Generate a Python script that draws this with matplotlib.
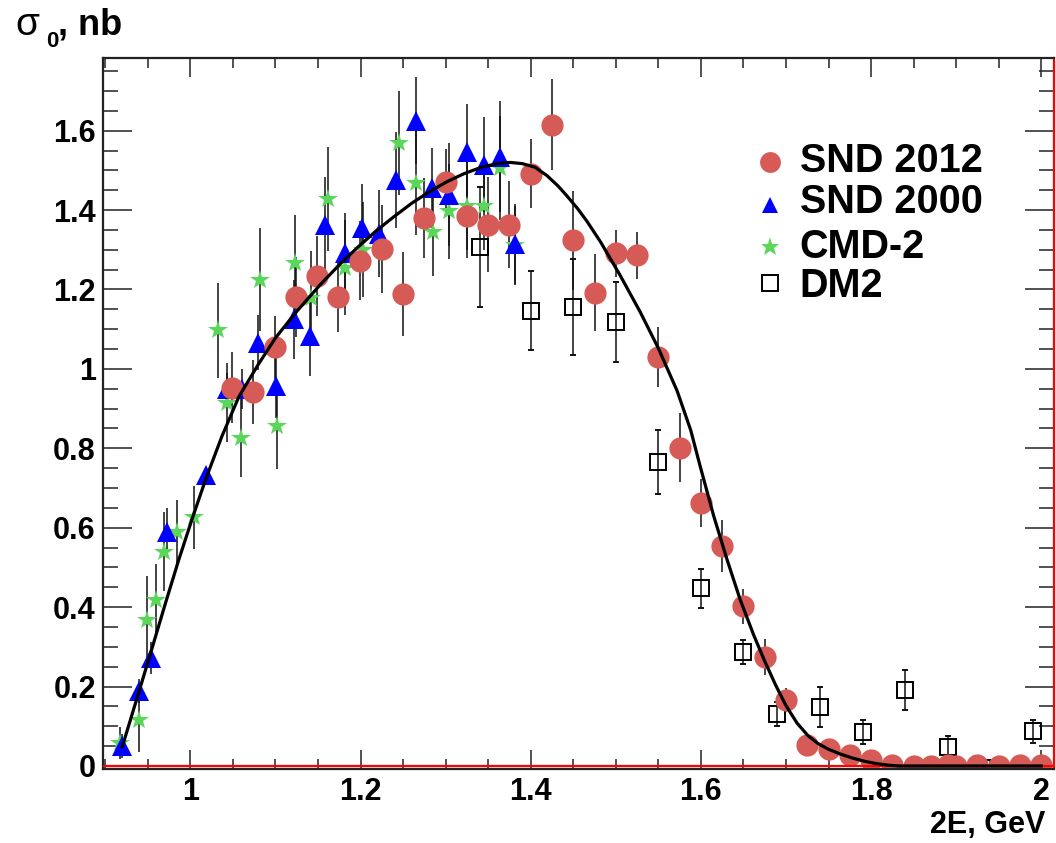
import matplotlib
matplotlib.use("Agg")
import matplotlib.pyplot as plt
from matplotlib.ticker import MultipleLocator, FuncFormatter

# SND 2012: energy (GeV), cross section (nb), error
snd12_x = [1.049, 1.074, 1.100, 1.124, 1.149, 1.174, 1.199, 1.225, 1.250, 1.275,
           1.300, 1.325, 1.350, 1.375, 1.400, 1.425, 1.450, 1.475, 1.500, 1.525,
           1.550, 1.575, 1.600, 1.625, 1.650, 1.675, 1.700, 1.725, 1.750, 1.775,
           1.800, 1.825, 1.850, 1.870, 1.890, 1.900, 1.925, 1.950, 1.975, 2.000]
snd12_y = [0.953, 0.942, 1.054, 1.181, 1.234, 1.182, 1.273, 1.302, 1.189, 1.380,
           1.470, 1.384, 1.363, 1.363, 1.492, 1.615, 1.324, 1.192, 1.291, 1.286,
           1.030, 0.802, 0.662, 0.554, 0.402, 0.275, 0.166, 0.053, 0.042, 0.027,
           0.014, 0.002, 0.000, 0.001, 0.002, 0.000, 0.002, 0.000, 0.003, 0.003]
snd12_err = [0.09, 0.08, 0.08, 0.10, 0.10, 0.09, 0.10, 0.11, 0.106, 0.10,
             0.085, 0.105, 0.12, 0.11, 0.088, 0.114, 0.125, 0.097, 0.06, 0.06,
             0.075, 0.086, 0.06, 0.065, 0.044, 0.046, 0.03, 0.01, 0.01, 0.01,
             0.005, 0.003, 0.002, 0.002, 0.002, 0.002, 0.002, 0.002, 0.002, 0.002]

# SND 2000
snd00_x = [0.920, 0.940, 0.954, 0.972, 1.018, 1.043, 1.061, 1.080, 1.101, 1.122,
           1.141, 1.158, 1.182, 1.202, 1.222, 1.242, 1.265, 1.284, 1.304, 1.325,
           1.345, 1.364, 1.381]
snd00_y = [0.050, 0.188, 0.272, 0.590, 0.732, 0.950, 0.950, 1.066, 0.957, 1.125,
           1.083, 1.363, 1.292, 1.355, 1.341, 1.476, 1.625, 1.456, 1.439, 1.546,
           1.514, 1.534, 1.315]
snd00_err = [0.03, 0.03, 0.04, 0.06, 0.02, 0.04, 0.05, 0.07, 0.08, 0.10,
             0.10, 0.12, 0.10, 0.11, 0.11, 0.12, 0.11, 0.10, 0.13, 0.12,
             0.12, 0.14, 0.10]

# CMD-2
cmd2_x = [0.917, 0.940, 0.949, 0.959, 0.969, 0.984, 1.004, 1.033, 1.043, 1.060,
          1.082, 1.102, 1.123, 1.142, 1.162, 1.182, 1.203, 1.245, 1.265, 1.285,
          1.304, 1.325, 1.345, 1.364, 1.381]
cmd2_y = [0.058, 0.116, 0.368, 0.418, 0.540, 0.590, 0.626, 1.097, 0.915, 0.827,
          1.225, 0.857, 1.267, 1.178, 1.428, 1.255, 1.300, 1.569, 1.468, 1.345,
          1.397, 1.410, 1.410, 1.506, 1.311]
cmd2_err = [0.04, 0.08, 0.11, 0.09, 0.10, 0.08, 0.08, 0.12, 0.10, 0.10,
            0.13, 0.11, 0.12, 0.12, 0.13, 0.12, 0.12, 0.13, 0.13, 0.11,
            0.12, 0.11, 0.11, 0.13, 0.10]

# DM2
dm2_x = [1.340, 1.400, 1.450, 1.500, 1.550, 1.600, 1.650, 1.690, 1.740, 1.790,
         1.840, 1.890, 1.940, 1.990]
dm2_y = [1.307, 1.147, 1.156, 1.118, 0.765, 0.447, 0.286, 0.131, 0.148, 0.085,
         0.192, 0.048, -0.004, 0.087]
dm2_err = [0.15, 0.10, 0.12, 0.10, 0.08, 0.05, 0.03, 0.03, 0.05, 0.03,
           0.05, 0.027, 0.02, 0.03]

# fitted curve
fit_x = [0.920, 0.939, 0.955, 0.971, 0.986, 1.002, 1.018, 1.037, 1.057, 1.080,
         1.100, 1.123, 1.153, 1.175, 1.196, 1.218, 1.239, 1.260, 1.280, 1.302,
         1.322, 1.341, 1.360, 1.376, 1.390, 1.405, 1.419, 1.432, 1.442, 1.455,
         1.466, 1.482, 1.505, 1.529, 1.550, 1.572, 1.588, 1.599, 1.615, 1.631,
         1.646, 1.662, 1.675, 1.688, 1.700, 1.713, 1.726, 1.738, 1.750, 1.764,
         1.778, 1.792, 1.806, 1.820, 1.833, 1.900, 2.000]
fit_y = [0.049, 0.183, 0.297, 0.412, 0.517, 0.622, 0.722, 0.830, 0.930, 1.012,
         1.078, 1.140, 1.213, 1.262, 1.305, 1.347, 1.383, 1.417, 1.445, 1.472,
         1.492, 1.507, 1.517, 1.520, 1.517, 1.508, 1.487, 1.461, 1.437, 1.404,
         1.372, 1.320, 1.236, 1.142, 1.052, 0.945, 0.846, 0.756, 0.630, 0.518,
         0.420, 0.330, 0.264, 0.203, 0.152, 0.108, 0.076, 0.056, 0.042, 0.030,
         0.020, 0.012, 0.006, 0.002, 0.000, 0.000, 0.000]

RED = "#D65A55"
BLUE = "#0000FF"
GREEN = "#5AD65A"

series = [
    ("DM2", dm2_x, dm2_y, dm2_err,
     dict(marker="s", ms=12, mfc="none", mec="black", mew=1.4)),
    ("CMD-2", cmd2_x, cmd2_y, cmd2_err,
     dict(marker="*", ms=15, mfc=GREEN, mec=GREEN, mew=0)),
    ("SND 2000", snd00_x, snd00_y, snd00_err,
     dict(marker="^", ms=15, mfc=BLUE, mec=BLUE, mew=0)),
    ("SND 2012", snd12_x, snd12_y, snd12_err,
     dict(marker="o", ms=16, mfc=RED, mec=RED, mew=0)),
]

plt.rcParams["font.family"] = ["Liberation Sans", "DejaVu Sans"]
plt.rcParams["font.weight"] = "bold"

fig = plt.figure(figsize=(10.56, 8.43), dpi=100)
ax = fig.add_axes([0.0973, 0.0878, 0.9008, 0.8434])

for label, xs, ys, errs, style in series:
    ax.errorbar(xs, ys, yerr=errs, ls="none", ecolor="#111111", elinewidth=1.1,
                capsize=2.5, capthick=1.1, **style)

ax.axhline(0, color="#FF0000", lw=1.6, zorder=4)
ax.plot(fit_x, fit_y, color="black", lw=2.3, zorder=5)

ax.set_xlim(0.897, 2.015)
ax.set_ylim(-0.0076, 1.783)

fmt = FuncFormatter(lambda v, p: f"{v:g}")
ax.xaxis.set_major_locator(MultipleLocator(0.2))
ax.xaxis.set_minor_locator(MultipleLocator(0.05))
ax.yaxis.set_major_locator(MultipleLocator(0.2))
ax.yaxis.set_minor_locator(MultipleLocator(0.05))
ax.xaxis.set_major_formatter(fmt)
ax.yaxis.set_major_formatter(fmt)

ax.tick_params(which="both", direction="in", top=True, right=True,
               width=1.1, color="#222222", labelsize=22)
ax.tick_params(axis="x", which="major", length=14, pad=6)
ax.tick_params(axis="x", which="minor", length=7)
ax.tick_params(axis="y", which="major", length=21, pad=5)
ax.tick_params(axis="y", which="minor", length=10.5)

for side in ("left", "top", "bottom"):
    ax.spines[side].set_color("#222222")
    ax.spines[side].set_linewidth(1.6)
ax.spines["right"].set_color("#FF0000")
ax.spines["right"].set_linewidth(1.6)

# legend drawn by hand to keep ROOT-like row spacing
legend_rows = {"SND 2012": (0.8537, 0.8396),
               "SND 2000": (0.7932, 0.7820),
               "CMD-2": (0.7347, 0.7187),
               "DM2": (0.6835, 0.6639)}
legend_ms = {"SND 2012": 15, "SND 2000": 12, "CMD-2": 14, "DM2": 11}
for label, xs, ys, errs, style in series:
    ym, yt = legend_rows[label]
    st = dict(style)
    st["ms"] = legend_ms[label]
    ax.plot([0.7015], [ym], transform=ax.transAxes, clip_on=False, **st)
    ax.text(0.7325, yt, label, transform=ax.transAxes, fontsize=28.5,
            fontweight="bold", va="baseline", ha="left")

# axis titles
fig.text(0.0150, 0.9585, "σ", fontsize=28, fontweight="normal", va="baseline")
fig.text(0.0435, 0.9440, "0", fontsize=16, fontweight="bold", va="baseline")
fig.text(0.0545, 0.9585, ", nb", fontsize=26, fontweight="bold", va="baseline")
fig.text(0.9896, 0.0119, "2E, GeV", fontsize=22, fontweight="bold",
         ha="right", va="baseline")

fig.savefig("out.png", dpi=100, facecolor="white")
